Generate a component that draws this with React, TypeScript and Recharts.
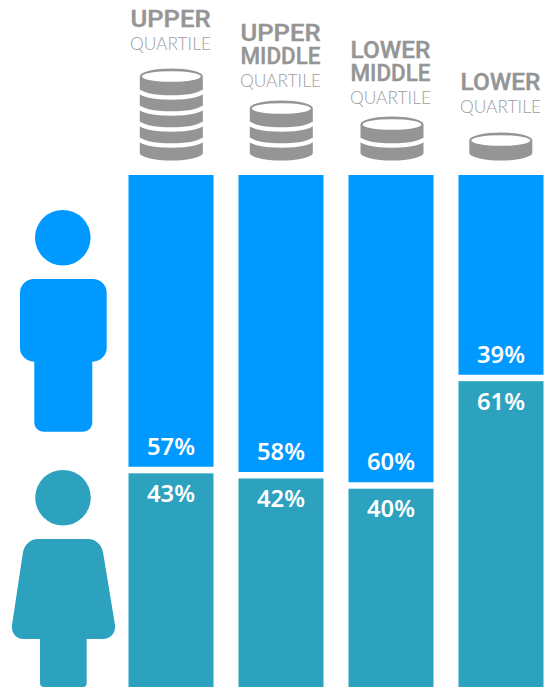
import React from 'react';
import { BarChart, Bar, XAxis, YAxis, LabelList, Customized } from 'recharts';

// Pay quartiles, highest first
const quartiles = ['UPPER', 'UPPER MIDDLE', 'LOWER MIDDLE', 'LOWER'];
const malePercent = [57, 58, 60, 39];
const femalePercent = [43, 42, 40, 61];
const coinCounts = [5, 3, 2, 1];

const rows = quartiles.map((quartile, i) => ({
  quartile,
  male: malePercent[i],
  female: femalePercent[i],
  coins: coinCounts[i],
}));

const MALE = '#0099FF';
const FEMALE = '#2DA2BF';
const GREY = '#959595';
const LIGHT_GREY = '#9E9E9E';
const SANS = 'Roboto, "Noto Sans", sans-serif';
const LIGHT_SANS = 'Lato, Roboto, sans-serif';
const LABEL_FONT = '"Noto Sans", Roboto, sans-serif';

const WIDTH = 556;
const HEIGHT = 687;
const HEADER = 175;
const GAP = 6.5;

// Baseline of the light "QUARTILE" line above each coin stack
const captionBaselines = [50, 86.5, 104, 113];

const coinShift = [0.8, 0.8, 1.5, 0.3];

function CoinStack({ cx, count }: { cx: number; count: number }) {
  const rx = 31.5;
  const ry = 7.5;
  const bottom = 160.5;
  const height = 28 + 16 * (count - 1);
  const top = bottom - height;
  const lidY = top + ry;
  const sideEnd = bottom - ry;
  const body = `M${cx - rx} ${lidY} A${rx} ${ry} 0 0 1 ${cx + rx} ${lidY} L${cx + rx} ${sideEnd} A${rx} ${ry} 0 0 1 ${cx - rx} ${sideEnd} Z`;
  const dividers = Array.from({ length: count - 1 }, (_, i) => sideEnd - 16 * (i + 1) + 1);
  return (
    <g>
      <path d={body} fill={GREY} />
      <ellipse cx={cx} cy={lidY + 0.5} rx={rx - 2} ry={ry - 2.2} fill="#fff" />
      {dividers.map((y) => (
        <path
          key={y}
          d={`M${cx - rx - 1} ${y} A${rx + 1} ${ry} 0 0 0 ${cx + rx + 1} ${y}`}
          fill="none"
          stroke="#fff"
          strokeWidth={4.4}
        />
      ))}
    </g>
  );
}

function QuartileHeader({ x, payload, index }: any) {
  const i = index as number;
  const words = String(payload.value).split(' ');
  const caption = captionBaselines[i];
  const cx = x as number;
  return (
    <g textAnchor="middle">
      {words.map((word, w) => (
        <text
          key={word}
          x={cx}
          y={caption - 23 * (words.length - w)}
          fontFamily={SANS}
          fontWeight={500}
          fontSize={24}
          fill={GREY}
          stroke={GREY}
          strokeWidth={0.4}
          textLength={80}
          lengthAdjust="spacingAndGlyphs"
        >
          {word}
        </text>
      ))}
      <text
        x={cx}
        y={caption}
        fontFamily={LIGHT_SANS}
        fontWeight={300}
        fontSize={18}
        fill={LIGHT_GREY}
        textLength={81}
        lengthAdjust="spacingAndGlyphs"
      >
        QUARTILE
      </text>
      <CoinStack cx={cx + coinShift[i]} count={rows[i].coins} />
    </g>
  );
}

// Female bar stops short of the stack boundary, leaving a white band under the male bar
function FemaleBar({ x, y, width, height }: any) {
  return <rect x={x} y={y + GAP} width={width} height={height - GAP} fill={FEMALE} />;
}

function valueLabel(baseline: (y: number, height: number) => number) {
  return function ValueLabel({ x, y, width, height, value }: any) {
    return (
      <text
        x={x + width / 2}
        y={baseline(y, height)}
        textAnchor="middle"
        fontFamily={LABEL_FONT}
        fontWeight={600}
        fontSize={23}
        fill="#fff"
        textLength={48}
        lengthAdjust="spacingAndGlyphs"
      >
        {value}%
      </text>
    );
  };
}

// Figures identifying the two series, left of the bars
function People() {
  return (
    <g>
      <circle cx={62.8} cy={237.7} r={27.8} fill={MALE} />
      <path
        fill={MALE}
        d="M34 279 H92.7 A14 14 0 0 1 106.7 293 V347.7 A14 14 0 0 1 92.7 361.7 H92.3 V422.7 A9 9 0 0 1 83.3 431.7 H43.3 A9 9 0 0 1 34.3 422.7 V361.7 H34 A14 14 0 0 1 20 347.7 V293 A14 14 0 0 1 34 279 Z"
      />
      <circle cx={63} cy={497.7} r={27.8} fill={FEMALE} />
      <path
        fill={FEMALE}
        d="M38 539 H88 C96 539 101.5 545 103 552 L115 625 C116 632 111 639 103 639 H86.7 V683 Q86.7 687 83 687 H44 Q40 687 40 683 V639 H23.5 C15.5 639 11 632 12 625 L23 552 C24.5 545 30 539 38 539 Z"
      />
    </g>
  );
}

export default function App() {
  return (
    <div style={{ position: 'absolute', left: 0, top: 0, width: 544, height: HEIGHT, overflow: 'hidden', background: '#fff' }}>
      <BarChart
        width={WIDTH}
        height={HEIGHT}
        data={rows}
        barSize={85}
        margin={{ top: 0, right: 0.5, bottom: 0, left: 115.5 }}
      >
        <XAxis
          dataKey="quartile"
          orientation="top"
          height={HEADER}
          axisLine={false}
          tickLine={false}
          interval={0}
          tick={<QuartileHeader />}
        />
        <YAxis hide domain={[0, 100]} />
        <Bar dataKey="female" stackId="pay" shape={<FemaleBar />} isAnimationActive={false}>
          <LabelList dataKey="female" content={valueLabel((y) => y + 35)} />
        </Bar>
        <Bar dataKey="male" stackId="pay" fill={MALE} isAnimationActive={false}>
          <LabelList dataKey="male" content={valueLabel((y, h) => y + h - 12)} />
        </Bar>
        <Customized component={People} />
      </BarChart>
    </div>
  );
}
